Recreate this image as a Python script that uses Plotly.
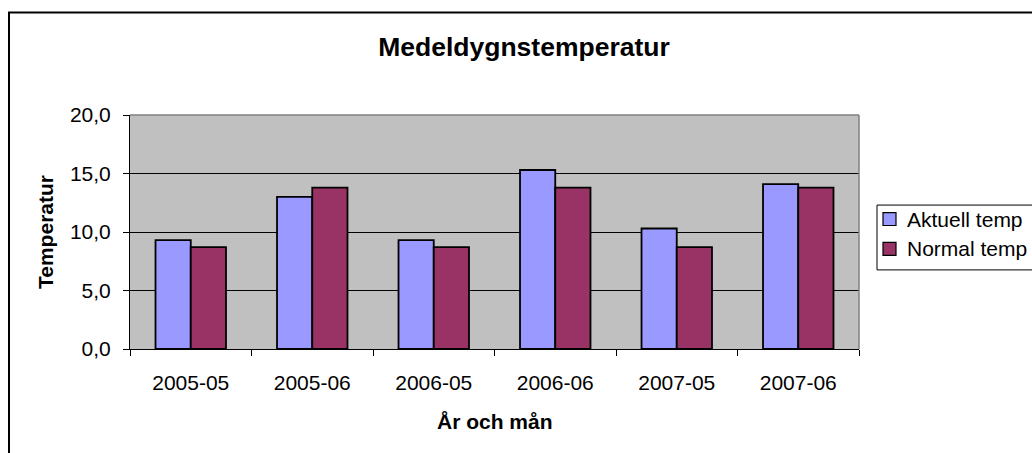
import plotly.graph_objects as go

categories = ["2005-05", "2005-06", "2006-05", "2006-06", "2007-05", "2007-06"]
aktuell_temp = [9.3, 13.0, 9.3, 15.3, 10.3, 14.1]
normal_temp = [8.7, 13.8, 8.7, 13.8, 8.7, 13.8]
y_ticks = [0, 5, 10, 15, 20]
series_names = ["Aktuell temp", "Normal temp"]
series_colors = ["#9999FF", "#993366"]

W, H = 1032, 453
L, R, T, B = 130, 859, 114.7, 349.3
pw, ph = R - L, B - T


def px(x):
    return (x - L) / pw


def py(y):
    return (B - y) / ph


FONT = "Liberation Sans, Arial, sans-serif"

fig = go.Figure()
for name, vals, col in zip(series_names, [aktuell_temp, normal_temp], series_colors):
    fig.add_trace(go.Bar(x=categories, y=vals, name=name, showlegend=False,
                         hoverinfo="skip",
                         marker=dict(color=col, line=dict(color="black", width=1.8))))

# custom legend (box, swatches, labels)
leg_left, leg_top, leg_bottom = 877, 205, 270
row_y = [219, 249]
shapes = [
    dict(type="line", xref="paper", yref="paper", x0=0, x1=1, y0=1, y1=1,
         line=dict(color="#808080", width=1.5), layer="above"),
    dict(type="line", xref="paper", yref="paper", x0=1, x1=1, y0=0, y1=1,
         line=dict(color="#808080", width=1.5), layer="above"),
    dict(type="rect", xref="paper", yref="paper", x0=px(9), x1=px(1045),
         y0=py(465), y1=py(12), line=dict(color="black", width=2), layer="below"),
    dict(type="rect", xref="paper", yref="paper", x0=px(leg_left), x1=px(1045),
         y0=py(leg_bottom), y1=py(leg_top), line=dict(color="black", width=1),
         fillcolor="white", layer="above"),
]
annotations = [
    dict(text="<b>Temperatur</b>", xref="paper", yref="paper", x=px(45), y=0.5,
         xanchor="center", yanchor="middle", textangle=-90, showarrow=False,
         font=dict(family=FONT, size=21, color="black")),
    dict(text="<b>År och mån</b>", xref="paper", yref="paper", x=0.5, y=py(422),
         xanchor="center", yanchor="middle", showarrow=False,
         font=dict(family=FONT, size=21, color="black")),
]
for name, col, yc in zip(series_names, series_colors, row_y):
    shapes.append(dict(type="rect", xref="paper", yref="paper", x0=px(883), x1=px(896),
                       y0=py(yc + 6.5), y1=py(yc - 6.5), fillcolor=col,
                       line=dict(color="black", width=1.2), layer="above"))
    annotations.append(dict(text=name, xref="paper", yref="paper", x=px(905), y=py(yc),
                            xanchor="left", yanchor="middle", showarrow=False,
                            font=dict(family=FONT, size=21, color="black")))

fig.update_layout(
    width=W, height=H,
    margin=dict(l=L, r=W - R, t=T, b=H - B, autoexpand=False),
    paper_bgcolor="white", plot_bgcolor="#C0C0C0",
    separators=", ",
    barmode="group", bargap=0.42, bargroupgap=0,
    font=dict(family=FONT, size=21, color="black"),
    title=dict(text="<b>Medeldygnstemperatur</b>", x=524 / W, xanchor="center",
               y=1 - 47 / H, yanchor="middle", xref="container", yref="container",
               font=dict(family=FONT, size=26.5, color="black")),
    showlegend=False,
    hovermode=False,
    xaxis=dict(type="category", showgrid=False, showline=True, linecolor="black", linewidth=1,
               ticks="outside", tickson="boundaries", ticklen=6, tickcolor="black",
               ticklabelstandoff=15, tickfont=dict(size=21), fixedrange=True),
    yaxis=dict(range=[0, 20], tickvals=y_ticks, tickformat=".1f", showgrid=True,
               gridcolor="black", gridwidth=1, showline=True, linecolor="black", linewidth=1,
               ticks="outside", ticklen=6, tickcolor="black", zeroline=False,
               ticklabelstandoff=8, tickfont=dict(size=21), fixedrange=True),
    shapes=shapes,
    annotations=annotations,
)

fig.write_html("out.html", config={"displayModeBar": False},
               post_script="document.body.style.margin='0';")
